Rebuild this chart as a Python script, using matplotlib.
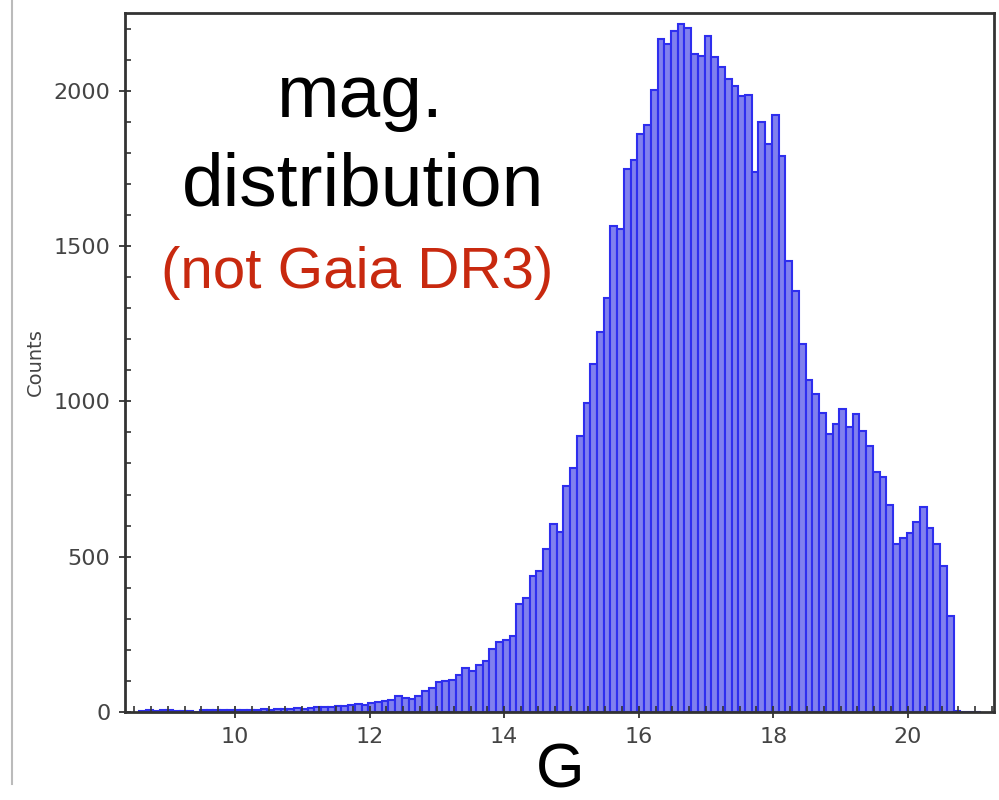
import numpy as np
import matplotlib.pyplot as plt
from matplotlib.lines import Line2D
from matplotlib.ticker import MultipleLocator

# histogram of G magnitudes, bins of 0.1 mag
g_start = 8.58
bin_w = 0.1
counts = [
    4, 5, 3, 5, 6, 4, 3, 4, 0, 5,            # 8.6 - 9.5
    6, 5, 7, 6, 7, 8, 7, 8, 9, 8,            # 9.6 - 10.5
    10, 9, 11, 12, 11, 13, 15, 16, 16, 18,   # 10.6 - 11.5
    19, 21, 25, 24, 28, 33, 36, 38, 50, 46,  # 11.6 - 12.5
    42, 50, 66, 78, 97, 100, 103, 118, 143, 132,     # 12.6 - 13.5
    150, 163, 202, 226, 231, 245, 347, 368, 438, 454,  # 13.6 - 14.5
    524, 605, 578, 728, 787, 889, 996, 1120, 1222, 1334,  # 14.6 - 15.5
    1565, 1555, 1748, 1777, 1860, 1890, 2002, 2166, 2150, 2193,  # 15.6 - 16.5
    2213, 2202, 2118, 2113, 2177, 2107, 2075, 2038, 2016, 1984,  # 16.6 - 17.5
    1987, 1737, 1898, 1828, 1923, 1791, 1452, 1356, 1184, 1068,  # 17.6 - 18.5
    1023, 961, 894, 927, 975, 916, 959, 905, 857, 774,  # 18.6 - 19.5
    755, 667, 540, 561, 577, 613, 660, 592, 540, 470,  # 19.6 - 20.5
    309, 2, 0, 0, 1,
]

x_ticks = [10, 12, 14, 16, 18, 20]
y_ticks = [0, 500, 1000, 1500, 2000]

edges = g_start + bin_w * np.arange(len(counts) + 1)
centers = 0.5 * (edges[:-1] + edges[1:])

fig = plt.figure(figsize=(9.99, 8), dpi=100)
ax = fig.add_axes([125 / 999, 1 - 712 / 800, 869 / 999, 699 / 800])

ax.hist(centers, bins=edges, weights=counts, color='#8080ee',
        edgecolor='#2e2eee', linewidth=1.5)

ax.set_xlim(8.365, 21.28)
ax.set_ylim(0, 2250)
ax.set_xticks(x_ticks)
ax.set_yticks(y_ticks)
ax.xaxis.set_minor_locator(MultipleLocator(0.25))
ax.yaxis.set_minor_locator(MultipleLocator(100))
ax.tick_params(which='major', direction='inout', length=9, width=1.3,
               color='#333333', labelsize=16, labelcolor='#444444', pad=6)
ax.tick_params(which='minor', direction='in', length=4, width=1.2, color='#333333')
for s in ax.spines.values():
    s.set_color('#333333')
    s.set_linewidth(2)

ax.set_ylabel('Counts', fontsize=14, color='#444444', labelpad=6)

# big "G" under the axis, kept inside the canvas
fig.text(560 / 999, 1 - 787 / 800, 'G', fontsize=45, family='Liberation Sans',
         ha='center', va='baseline')

fig.text(360 / 999, 1 - 97 / 800, 'mag.', fontsize=54, family='Liberation Sans',
         ha='center', va='center')
fig.text(363 / 999, 1 - 186 / 800, 'distribution', fontsize=54,
         family='Liberation Sans', ha='center', va='center')
fig.text(357 / 999, 1 - 273 / 800, '(not Gaia DR3)', fontsize=42,
         family='Liberation Sans', color='#c8290f', ha='center', va='center')

# thin grey line on the left border of the screenshot
fig.add_artist(Line2D([12 / 999, 12 / 999], [0.02, 1.0], color='#bbbbbb', lw=1.5))

fig.savefig('out.png', dpi=100)
